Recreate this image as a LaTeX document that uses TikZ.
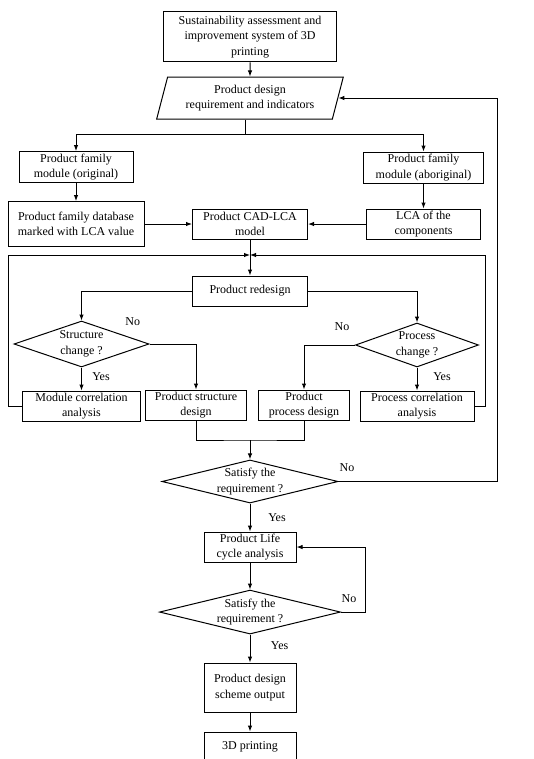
\documentclass[tikz,border=0pt]{standalone}
\usepackage{fontspec}
\setmainfont{Liberation Serif}
\usetikzlibrary{positioning}
\usetikzlibrary{shapes.geometric}
\usetikzlibrary{arrows.meta}

\tikzset{
  box/.style={draw, rectangle, minimum height=30pt, inner sep=1pt, align=center},
  decision/.style={draw, diamond, aspect=4, inner sep=0pt, align=center},
  io/.style={draw, trapezium, trapezium left angle=73, trapezium right angle=107,
    trapezium stretches=true, inner sep=1pt, align=center},
  lbl/.style={inner sep=0pt},
  link/.style={-{Latex[length=6pt,width=4.5pt]}},
}

\begin{document}
\begin{tikzpicture}[x=1pt, y=1pt, line width=1pt, font=\fontsize{12}{15.5}\selectfont]
  \useasboundingbox (0,0) rectangle (533,-759);

  % Define nodes
  \node[box, minimum width=173pt, minimum height=50pt] (top) at (250,-37)
    {Sustainability assessment and\\improvement system of 3D\\printing};
  \node[io, minimum width=187pt, minimum height=42pt, below=14pt of top] (req)
    {Product design\\requirement and indicators};
  \node[box, minimum width=115pt, below=89pt of req] (cad) {Product CAD-LCA\\model};
  \node[box, minimum width=136pt, minimum height=45pt, left=47.5pt of cad] (db)
    {Product family database\\marked with LCA value};
  \node[box, minimum width=114pt, right=58pt of cad] (lca) {LCA of the\\components};
  \node[box, minimum width=114pt, minimum height=31pt, above=18pt of db] (orig)
    {Product family\\module (original)};
  \node[box, minimum width=120pt, minimum height=31pt, above=25pt of lca] (abor)
    {Product family\\module (aboriginal)};
  \node[box, minimum width=115pt, below=36pt of cad] (redesign) {Product redesign};

  \node[decision, aspect=2.9, minimum width=135pt, minimum height=46pt] (schange)
    at (81.5,-344) {Structure\\change ?};
  \node[decision, aspect=2.8, minimum width=123pt, minimum height=44pt] (pchange)
    at (417,-345) {Process\\change ?};
  \node[box, minimum width=118pt, below=23pt of schange] (modcor) {Module correlation\\analysis};
  \node[box, minimum width=101pt] (sdesign) at (196,-405) {Product structure\\design};
  \node[box, minimum width=91pt] (pdesign) at (304,-405) {Product\\process design};
  \node[box, minimum width=114pt, below=23pt of pchange] (pcor) {Process correlation\\analysis};

  \node[decision, minimum width=176pt, minimum height=43pt] (sat1) at (250,-481.5)
    {Satisfy the\\requirement ?};
  \node[box, minimum width=92pt, below=28pt of sat1] (lifecyc) {Product Life\\cycle analysis};
  \node[decision, aspect=4.1, minimum width=181pt, minimum height=44pt, below=27pt of lifecyc] (sat2)
    {Satisfy the\\requirement ?};
  \node[box, minimum width=92pt, minimum height=49pt, below=28pt of sat2] (output)
    {Product design\\scheme output};
  \node[box, minimum width=92pt, below=19pt of output] (print) {3D printing};

  % Labels
  \node[lbl] (sno) at (132.7,-322) {No};
  \node[lbl] (pno) at (342,-327) {No};
  \node[lbl] (syes) at (101,-377) {Yes};
  \node[lbl] (pyes) at (442,-377) {Yes};
  \node[lbl] (satno) at (347,-468) {No};
  \node[lbl] (satyes) at (277,-518) {Yes};
  \node[lbl] (lcano) at (349,-599) {No};
  \node[lbl] (lcayes) at (279.6,-645.7) {Yes};

  % Connect nodes
  \coordinate (split) at (245,-135);
  \coordinate (junc) at (250,-255);
  \coordinate (merge) at (250,-440);

  \draw[link] (top) -- (req);
  \draw (req.south -| split) -- (split);
  \draw[link] (split) -| (orig);
  \draw[link] (split) -| (abor);
  \draw[link] (orig) -- (db);
  \draw[link] (abor) -- (lca);
  \draw[link] (db) -- (cad);
  \draw[link] (lca) -- (cad);
  \draw[link] (cad) -- (redesign);
  \draw[link] (modcor.west) -- ++(-13.5,0) |- (junc);
  \draw[link] (pcor.east) -- ++(10.5,0) |- (junc);
  \draw[link] (redesign) -| (schange);
  \draw[link] (redesign) -| (pchange);
  \draw[link] (schange) -- (modcor);
  \draw[link] (schange) -| (sdesign);
  \draw[link] (pchange) -- (pcor);
  \draw[link] (pchange) -| (pdesign);
  \draw (sdesign) |- (merge) -| (pdesign);
  \draw[link] (merge) -- (sat1);
  \draw[link] (sat1.east) -- ++(159,0) |- (req.east);
  \draw[link] (sat1) -- (lifecyc);
  \draw[link] (lifecyc) -- (sat2);
  \draw[link] (sat2.east) -- ++(24,0) |- (lifecyc.east);
  \draw[link] (sat2) -- (output);
  \draw[link] (output) -- (print);

\end{tikzpicture}
\end{document}
